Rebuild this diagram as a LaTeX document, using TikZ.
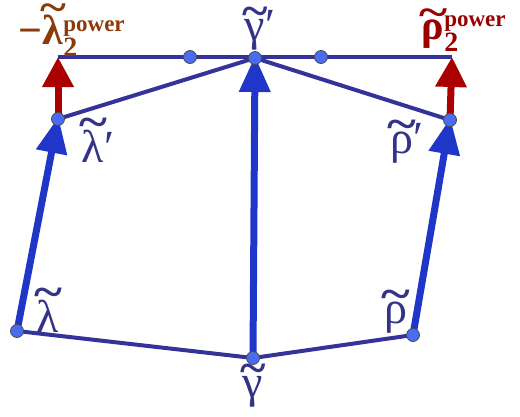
\documentclass[tikz,border=0pt]{standalone}
\usepackage{fontspec}
\usepackage{graphicx}
\setmainfont{Liberation Serif}
\usetikzlibrary{arrows.meta}
\definecolor{navy}{HTML}{333399}
\definecolor{arrowblue}{HTML}{2036C8}
\definecolor{dotblue}{HTML}{4A6CF0}
\definecolor{redarrow}{HTML}{AA0000}
\definecolor{brownlab}{HTML}{8B3A0A}
\definecolor{redlab}{HTML}{990000}
\definecolor{labnavy}{HTML}{333388}
\newsavebox\tlbox
\newlength\tlw
\newlength\tlh
\newcommand{\tl}[1]{\sbox\tlbox{#1}\setlength\tlw{\wd\tlbox}\setlength\tlh{\ht\tlbox}%
  \hbox{\usebox\tlbox\llap{\hbox to \tlw{\hss\raisebox{\dimexpr\tlh-0.16em\relax}{\resizebox{1.25\tlw}{\height}{\bfseries\char"7E}}\hss}}}}
\tikzset{
  thinline/.style={navy, line width=4pt},
  bigarrow/.style={arrowblue, line width=7pt, -{Triangle[length=36pt,width=30pt]}, shorten >=-2pt},
  redarr/.style={redarrow, line width=7pt, -{Triangle[length=30pt,width=30pt]}},
  dot/.style={circle, fill=dotblue, draw=black!70, line width=0.8pt, inner sep=0pt, minimum size=13pt},
  lab/.style={text=labnavy, font=\fontsize{46}{50}\selectfont, inner sep=0pt},
}
\begin{document}
\begin{tikzpicture}[x=1pt,y=-1pt]
\useasboundingbox (0,0) rectangle (520,416);
\coordinate (L) at (17,331);
\coordinate (G) at (253,358);
\coordinate (R) at (413,335);
\coordinate (Lp) at (58,119);
\coordinate (Rp) at (450,120);
\coordinate (Gp) at (255,58);
\coordinate (TL) at (58,57);
\coordinate (TR) at (452,57);
\coordinate (M1) at (190,57);
\coordinate (M2) at (321,57);
% thin lines
\draw[thinline] (TL) -- (TR);
\draw[thinline] (Lp) -- (Gp) -- (Rp);
\draw[thinline] (L) -- (G) -- (R);
% arrows
\draw[redarr] (Lp) -- (TL);
\draw[redarr] (Rp) -- (TR);
\draw[bigarrow] (L) -- (Lp);
\draw[bigarrow] (G) -- (Gp);
\draw[bigarrow] (R) -- (Rp);
% dots
\foreach \p in {L,G,R,Lp,Rp,Gp,M1,M2} \node[dot] (d\p) at (\p) {};
% labels
\node[lab] (lL) at (48,310) {\tl{λ}};
\node[lab] (lR) at (396,312) {\tl{ρ}};
\node[lab] (lG) at (253,386) {\tl{γ}};
\node[lab] (lLp) at (98,140) {\tl{λ}′};
\node[lab] (lRp) at (407,142) {\tl{ρ}′};
\node[lab] (lGp) at (260,29) {\tl{γ}′};
\node[lab, text=brownlab, font=\fontsize{42}{46}\selectfont\bfseries] (lpow) at (72,30)
  {−\tl{λ}$_{\hbox{\fontsize{28}{30}\selectfont\bfseries 2}}^{\hbox{\fontsize{23}{26}\selectfont\bfseries power}}$};
\node[lab, text=redlab, font=\fontsize{42}{46}\selectfont\bfseries] (rpow) at (464,30)
  {\tl{ρ}$_{\hbox{\fontsize{28}{30}\selectfont\bfseries 2}}^{\hbox{\fontsize{23}{26}\selectfont\bfseries power}}$};
\end{tikzpicture}
\end{document}
